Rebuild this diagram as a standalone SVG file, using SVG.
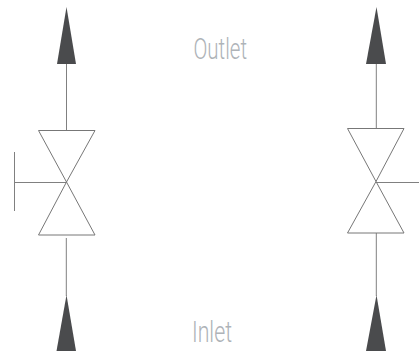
<svg xmlns="http://www.w3.org/2000/svg" width="419" height="353" viewBox="0 0 419 353">
<style>
.l{stroke:#808080;stroke-width:1;fill:none}
.v{stroke:#777;stroke-width:1;fill:#fff}
.a{fill:#4a4b4d;stroke:none}
.t{font-family:"Roboto","Liberation Sans",sans-serif;font-weight:300;font-size:30px;fill:#aeb3b8}
</style>
<rect width="419" height="353" fill="#fff"/>
<g id="connectors">
<path class="l" d="M66.500 64V130.500"/>
<path class="l" d="M66.300 238V296"/>
<path class="l" d="M376.300 64V128.500"/>
<path class="l" d="M376.300 233V296"/>
<path class="l" d="M14.500 182.500H66.500"/>
<path class="l" d="M14.500 152V211"/>
<path class="l" d="M376.500 182.500H419"/>
</g>
<g id="valve-left">
<path class="v" d="M38.500 130.500H95L66.500 182Z"/>
<path class="v" d="M66.500 182L95 235H38.500Z"/>
</g>
<g id="valve-right">
<path class="v" d="M347.500 128.500H404L376 181.500Z"/>
<path class="v" d="M376 181.500L404 233H347.500Z"/>
</g>
<g id="arrow-left-top"><path class="a" d="M66.500 7L76 64H57Z"/></g>
<g id="arrow-left-bottom"><path class="a" d="M66.500 295L76 351H56.500Z"/></g>
<g id="arrow-right-top"><path class="a" d="M376.500 7L386 64H366Z"/></g>
<g id="arrow-right-bottom"><path class="a" d="M376.500 295L386 351H366Z"/></g>
<g id="label-outlet"><text class="t" x="193.500" y="58.500" textLength="53.500" lengthAdjust="spacingAndGlyphs">Outlet</text></g>
<g id="label-inlet"><text class="t" x="192" y="341.500" textLength="40" lengthAdjust="spacingAndGlyphs">Inlet</text></g>
</svg>
